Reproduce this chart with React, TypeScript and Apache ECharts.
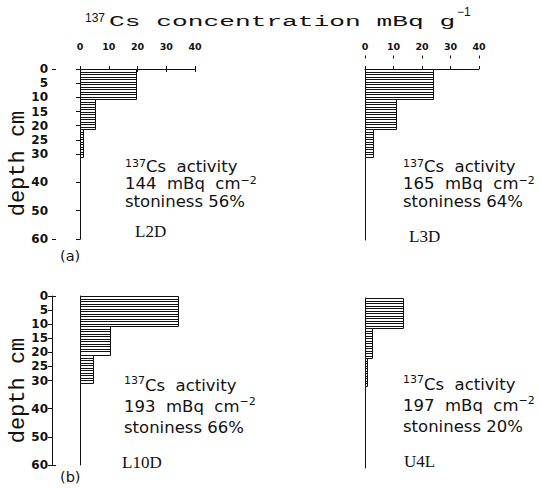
import React, { useEffect, useRef } from "react";
import * as echarts from "echarts";

// ---- data ----
const layerTop = [0, 10.5, 21];
const layerBottom = [10.5, 21, 31];
const sampleNames = ["L2D", "L3D", "L10D", "U4L"];
const concL2D = [19.5, 5.2, 0.9];
const concL3D = [24, 11, 2.8];
const concL10D = [34, 10.4, 4.4];
const concU4L = [13.2, 2.4, 0.6];
const activity = [144, 165, 193, 197];
const stoniness = [56, 64, 66, 20];
const xTicks = [0, 10, 20, 30, 40];
const depthLabels = [0, 5, 10, 15, 20, 25, 30, 40, 50, 60];
const depthEnds = [0, 60];
const panelTags = ["(a)", "(b)"];

const concs = [concL2D, concL3D, concL10D, concU4L];

const panels = [
  { left: 80, top: 69, width: 115, height: 170, showX: true, showY: true, tx: 125, ty: 157.5, lh: 17.5, nx: 135, ny: 231 },
  { left: 365, top: 69, width: 114, height: 171, showX: true, showY: false, tx: 403, ty: 157.5, lh: 17.5, nx: 409, ny: 236 },
  { left: 80, top: 296, width: 115, height: 169, showX: false, showY: true, tx: 124, ty: 374.5, lh: 21, nx: 122, ny: 462 },
  { left: 365, top: 298, width: 114, height: 170, showX: false, showY: false, tx: 403, ty: 373.5, lh: 21, nx: 404, ny: 461 },
];

const INK = "#111";

function buildOption() {
  const grid: any[] = [];
  const xAxis: any[] = [];
  const yAxis: any[] = [];
  const series: any[] = [];
  const graphic: any[] = [];

  panels.forEach((p, i) => {
    grid.push({ left: p.left, top: p.top, width: p.width, height: p.height });
    const xMainIndex = xAxis.length;
    xAxis.push({
      type: "value", gridIndex: i, min: 0, max: 40, interval: 10, position: "top",
      offset: p.top - 55.5, show: p.showX,
      axisLine: { show: true, lineStyle: { color: INK, width: 1 } },
      axisTick: { show: true, length: 3, lineStyle: { color: INK } },
      axisLabel: { show: true, margin: 4, fontSize: 9.5, fontWeight: "bold", fontFamily: "DejaVu Sans", color: INK,
        customValues: xTicks },
      splitLine: { show: false },
    });
    if (p.showX) {
      xAxis.push({
        type: "value", gridIndex: i, min: 0, max: 40, interval: 10, position: "top",
        offset: p.top - 55.5,
        axisLine: { show: false },
        axisTick: { show: true, inside: true, length: 3, lineStyle: { color: INK } },
        axisLabel: { show: false },
        splitLine: { show: false },
      });
    }
    const yBaseIndex = yAxis.length;
    yAxis.push({
      type: "value", gridIndex: i, min: 0, max: 60, inverse: true, position: "left", offset: 0,
      axisLine: { show: true, lineStyle: { color: INK, width: 1 } },
      axisTick: { show: false }, axisLabel: { show: false }, splitLine: { show: false },
    });
    if (p.showY) {
      yAxis.push({
        type: "value", gridIndex: i, min: 0, max: 60, interval: 5, inverse: true, position: "left", offset: 28,
        axisLine: { show: true, lineStyle: { color: INK, width: 1 } },
        axisTick: { show: true, length: 4, lineStyle: { color: INK }, customValues: depthLabels },
        axisLabel: {
          show: true, margin: 4, fontSize: 12, fontWeight: "bold", fontFamily: "DejaVu Sans", color: INK,
          customValues: depthLabels,
          formatter: (v: number) => (depthLabels.indexOf(v) >= 0 ? String(v) : ""),
        },
        splitLine: { show: false },
      });
      yAxis.push({
        type: "value", gridIndex: i, min: 0, max: 60, interval: 60, inverse: true, position: "left", offset: 28,
        axisLine: { show: false },
        axisTick: { show: true, inside: true, length: 4, lineStyle: { color: INK }, customValues: depthEnds },
        axisLabel: { show: false }, splitLine: { show: false },
      });
    }

    const data = layerTop.map((t, k) => [t, layerBottom[k], concs[i][k]]);
    series.push({
      type: "custom",
      xAxisIndex: xMainIndex,
      yAxisIndex: yBaseIndex,
      encode: { x: 2, y: [0, 1] },
      data,
      renderItem: (params: any, api: any) => {
        const t = api.value(0), b = api.value(1), v = api.value(2);
        const p0 = api.coord([0, t]);
        const p1 = api.coord([v, b]);
        const x0 = Math.round(p0[0]) + 0.5, x1 = Math.round(p1[0]) + 0.5;
        const y0 = Math.round(p0[1]) + 0.5, y1 = Math.round(p1[1]) + 0.5;
        const children: any[] = [
          { type: "rect", shape: { x: x0, y: y0, width: x1 - x0, height: y1 - y0 },
            style: { fill: "#fff", stroke: INK, lineWidth: 1 } },
        ];
        for (let k = 1; ; k++) {
          const yy = Math.floor(y0 + k * 2.5) + 0.5;
          if (yy > y1 - 1.5) break;
          children.push({ type: "line", shape: { x1: x0, y1: yy, x2: x1, y2: yy },
            style: { stroke: INK, lineWidth: 1 } });
        }
        return { type: "group", children };
      },
    });

    // annotation block
    graphic.push({
      type: "text", x: p.tx, y: p.ty,
      style: {
        text: `{s|137}{a|Cs  activity}\n{a|${activity[i]}  mBq  cm}{s|−2}\n{a|stoniness ${stoniness[i]}%}`,
        verticalAlign: "top", align: "left", fill: INK,
        rich: {
          a: { fontSize: 16.5, fontFamily: "DejaVu Sans", lineHeight: p.lh, fill: INK },
          s: { fontSize: 11, fontFamily: "DejaVu Sans", lineHeight: 11, verticalAlign: "top", fill: INK },
        },
      },
    });
    graphic.push({
      type: "text", x: p.nx, y: p.ny,
      style: { text: sampleNames[i], fontSize: 17, fontFamily: "Liberation Serif", fill: INK, align: "left", verticalAlign: "middle" },
    });
    if (p.showY) {
      graphic.push({
        type: "text", x: 18, y: p.top + 94.5, rotation: Math.PI / 2,
        style: { text: "depth cm", fontSize: 22, fontFamily: "Liberation Mono", fill: INK, align: "center", verticalAlign: "middle" },
      });
      graphic.push({
        type: "text", x: 60, y: i === 0 ? 256 : 477,
        style: { text: panelTags[i === 0 ? 0 : 1], fontSize: 14.5, fontFamily: "DejaVu Sans", fill: INK, align: "left", verticalAlign: "middle" },
      });
    }
  });

  // title
  graphic.push({
    type: "text", x: 85, y: 17.5,
    style: { text: "137", fontSize: 12, fontFamily: "Liberation Sans", fill: INK, align: "left", verticalAlign: "middle" },
  });
  graphic.push({
    type: "text", x: 109, y: 22, scaleX: 1.75, scaleY: 1,
    style: { text: "Cs concentration mBq g", fontSize: 15, fontFamily: "Liberation Mono", fill: INK, align: "left", verticalAlign: "middle" },
  });
  graphic.push({
    type: "text", x: 457, y: 12,
    style: { text: "−1", fontSize: 12, fontFamily: "Liberation Sans", fill: INK, align: "left", verticalAlign: "middle" },
  });

  return { animation: false, backgroundColor: "#fff", grid, xAxis, yAxis, series, graphic };
}

export default function App() {
  const ref = useRef<HTMLDivElement>(null);
  useEffect(() => {
    if (!ref.current) return;
    const chart = echarts.init(ref.current, null, { renderer: "svg" });
    chart.setOption(buildOption());
    return () => chart.dispose();
  }, []);
  return <div ref={ref} style={{ position: "absolute", left: 0, top: 0, width: 540, height: 488 }} />;
}
